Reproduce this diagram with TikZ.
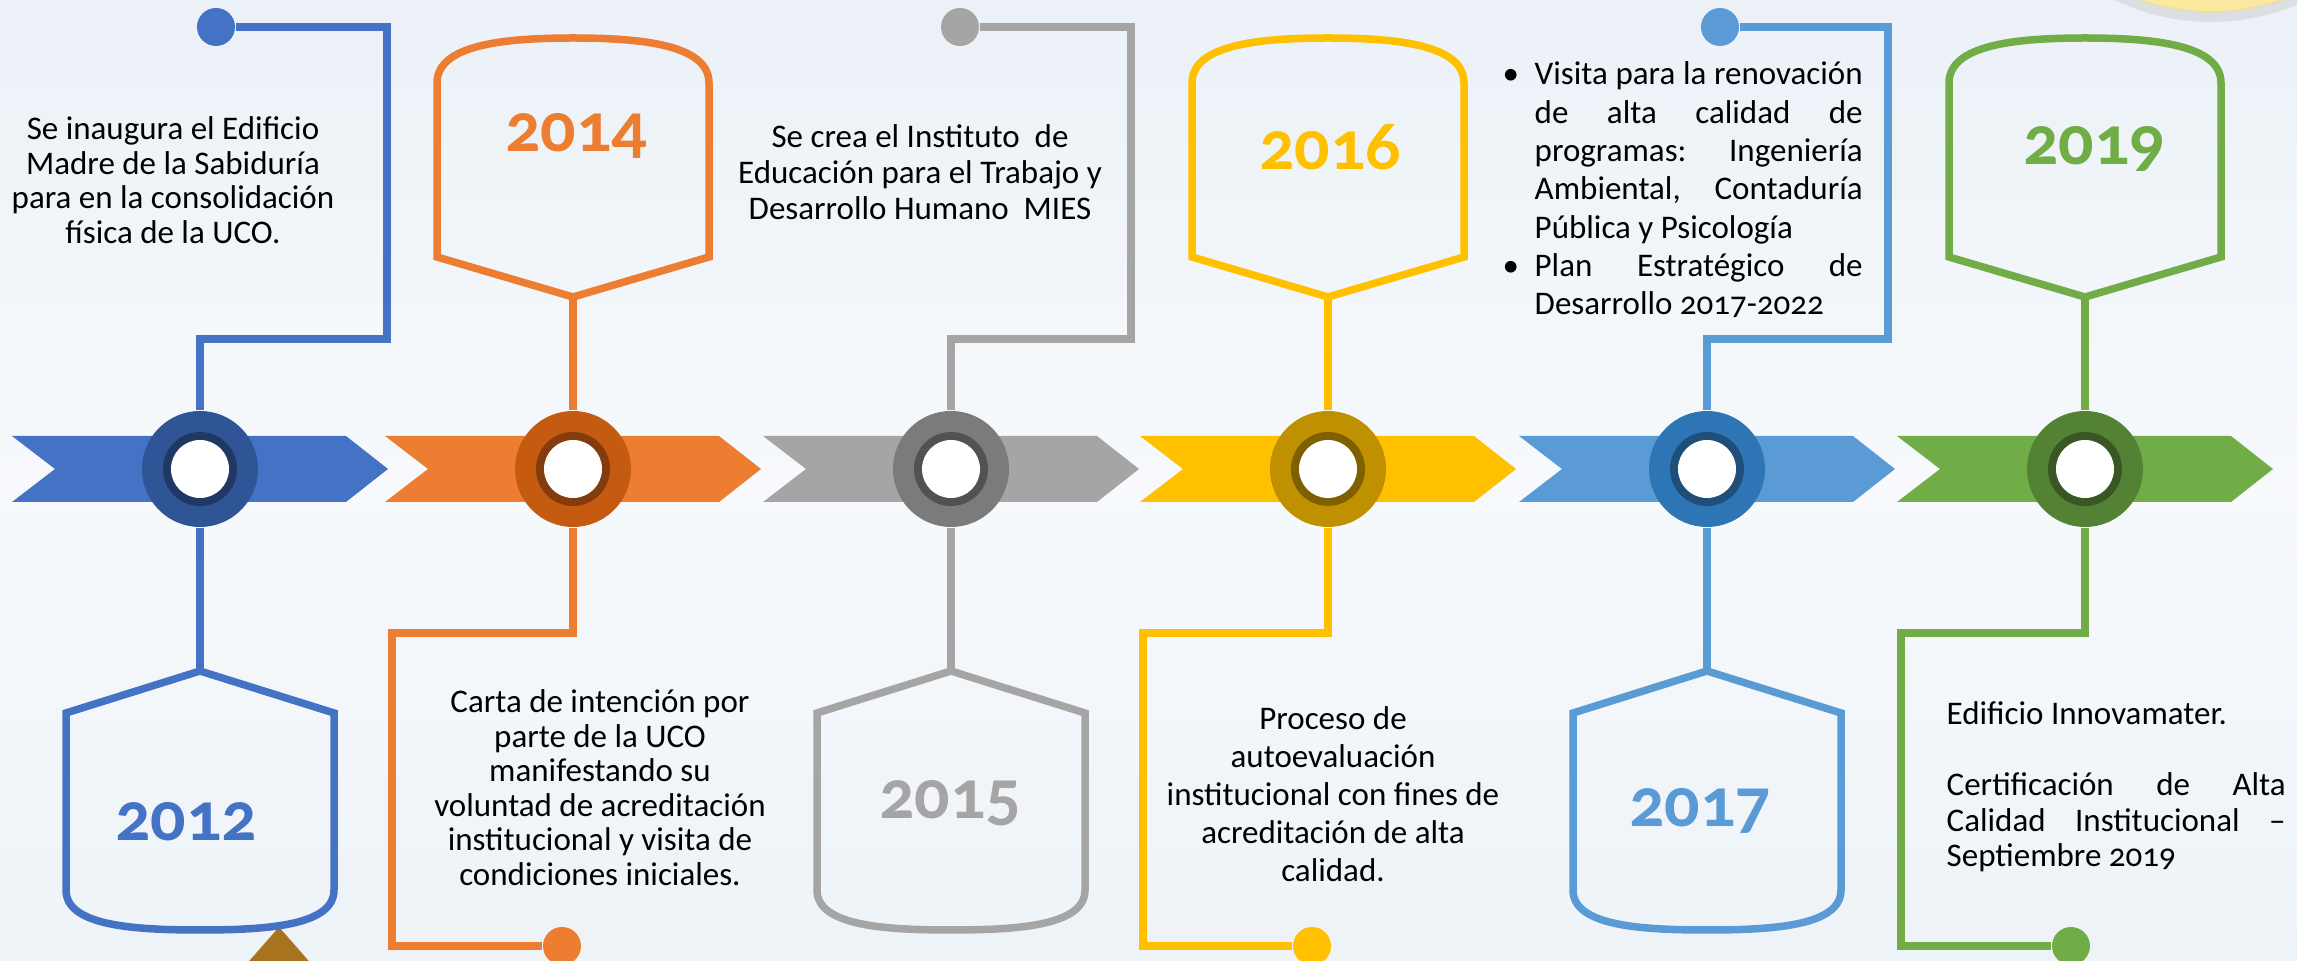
\documentclass[tikz,border=0pt]{standalone}
\usepackage{fontspec}
\setmainfont{Carlito}[Numbers=OldStyle]
\usetikzlibrary{positioning}

\definecolor{bgtop}{HTML}{EBF1F7}
\definecolor{bgbot}{HTML}{EEF3F8}
\definecolor{cA}{HTML}{4472C4}\definecolor{cAr}{HTML}{2F5597}\definecolor{cAc}{HTML}{203864}
\definecolor{cB}{HTML}{ED7D31}\definecolor{cBr}{HTML}{C55A11}\definecolor{cBc}{HTML}{843C0C}
\definecolor{cC}{HTML}{A5A5A5}\definecolor{cCr}{HTML}{7B7B7B}\definecolor{cCc}{HTML}{525252}
\definecolor{cD}{HTML}{FFC000}\definecolor{cDr}{HTML}{BF9000}\definecolor{cDc}{HTML}{7F6000}
\definecolor{cE}{HTML}{5B9BD5}\definecolor{cEr}{HTML}{2E75B6}\definecolor{cEc}{HTML}{1F4E79}
\definecolor{cF}{HTML}{70AD47}\definecolor{cFr}{HTML}{548235}\definecolor{cFc}{HTML}{385723}
\definecolor{discfill}{HTML}{FCE9A0}
\definecolor{discedge}{HTML}{EADDB5}
\definecolor{tri}{HTML}{A8731F}

\begin{document}
\begin{tikzpicture}[x=0.1mm, y=-0.1mm,
    conn/.style={line width=0.75mm, draw=#1},
    dot/.style={circle, fill=#1, minimum size=3.8mm, inner sep=0},
    ring/.style 2 args={circle, fill=#1, minimum size=11.6mm, inner sep=0,
      path picture={\fill[#2] (path picture bounding box.center) circle (3.7mm);
        \fill[white] (path picture bounding box.center) circle (2.9mm);}},
    banner/.style={line width=0.75mm, draw=#1},
    year/.style={anchor=base, inner sep=0, text=#1, font=\fontsize{7mm}{7.5mm}\selectfont\bfseries},
    evtxt/.style={anchor=base, inner sep=0}]
    \useasboundingbox (0,0) rectangle (2297,961);
    \clip (0,0) rectangle (2297,961);
    \shade[top color=bgtop, bottom color=bgbot, middle color=white!60!bgtop] (0,0) rectangle (2297,961);

    % logo edge and triangle
    \fill[black!25, opacity=0.35] (2211,-200) circle (222);
    \fill[discfill] (2211,-204) circle (216);
    \draw[discedge, line width=0.2mm] (2211,-204) circle (216);
    \fill[tri] (279,927) -- (321,975) -- (237,975) -- cycle;

    % timeline band
    \foreach \R/\c in {200/cA, 573/cB, 951/cC, 1328/cD, 1707/cE, 2085/cF}
        \fill[\c] (\R-188,436) -- (\R+146,436) -- (\R+188,469) -- (\R+146,502) -- (\R-188,502) -- (\R-145,469) -- cycle;

    \foreach \R/\c/\d [count=\i] in {200/cAr/cAc, 573/cBr/cBc, 951/cCr/cCc, 1328/cDr/cDc, 1707/cEr/cEc, 2085/cFr/cFc}
        \node[ring={\c}{\d}] (r\i) at (\R,469) {};

    % year banners
    \foreach \R/\c/\i in {573/cB/2, 1328/cD/4, 2085/cF/6} {
        \draw[banner=\c] (\R-136,257) -- (\R-136,83) .. controls (\R-136,45) and (\R-70,38) .. (\R,38)
            .. controls (\R+70,38) and (\R+136,45) .. (\R+136,83) -- (\R+136,257) -- (\R,297) coordinate (b\i) -- cycle;
        \draw[conn=\c] (b\i) -- (r\i);
    }
    \foreach \R/\c/\i in {200/cA/1, 951/cC/3, 1707/cE/5} {
        \draw[banner=\c] (\R,671) coordinate (b\i) -- (\R+134,713) -- (\R+134,890) .. controls (\R+134,925) and (\R+70,930) .. (\R,930)
            .. controls (\R-70,930) and (\R-134,925) .. (\R-134,890) -- (\R-134,713) -- cycle;
        \draw[conn=\c] (r\i) -- (b\i);
    }

    % text connectors
    \node[dot=cA] (d1) at (216,27) {};
    \node[dot=cC] (d3) at (960,27) {};
    \node[dot=cE] (d5) at (1720,27) {};
    \coordinate (k1) at (387,339);
    \coordinate (k3) at (1131,339);
    \coordinate (k5) at (1888,339);
    \draw[conn=cA] (d1) -| (k1) -| (r1);
    \draw[conn=cC] (d3) -| (k3) -| (r3);
    \draw[conn=cE] (d5) -| (k5) -| (r5);

    \node[dot=cB] (d2) at (562,946) {};
    \node[dot=cD] (d4) at (1312,946) {};
    \node[dot=cF] (d6) at (2071,946) {};
    \coordinate (k2) at (392,633);
    \coordinate (k4) at (1143,633);
    \coordinate (k6) at (1901,633);
    \draw[conn=cB] (r2) |- (k2) |- (d2);
    \draw[conn=cD] (r4) |- (k4) |- (d4);
    \draw[conn=cF] (r6) |- (k6) |- (d6);

    % years
    \node[year=cA] (y12) at (186,841) {2012};
    \node[year=cB] (y14) at (576,152) {2014};
    \node[year=cC] (y15) at (950,819) {2015};
    \node[year=cD] (y16) at (1330,170) {2016};
    \node[year=cE] (y17) at (1700,827) {2017};
    \node[year=cF] (y19) at (2094,165) {2019};

    % events
    \node[evtxt] (t12) at (173,140) {\parbox[t]{40mm}{\fontsize{3.3mm}{3.45mm}\selectfont\centering
        Se inaugura el Edificio\\ Madre de la Sabiduría\\ para en la consolidación\\ física de la UCO.}};
    \node[evtxt] (t14) at (600,713) {\parbox[t]{40mm}{\fontsize{3.3mm}{3.45mm}\selectfont\centering
        Carta de intención por\\ parte de la UCO\\ manifestando su\\ voluntad de acreditación\\
        institucional y visita de\\ condiciones iniciales.}};
    \node[evtxt] (t15) at (920,148) {\parbox[t]{40mm}{\fontsize{3.3mm}{3.6mm}\selectfont\centering
        Se crea el Instituto~ de\\ Educación para el Trabajo y\\ Desarrollo Humano~ MIES}};
    \node[evtxt] (t16) at (1333,730) {\parbox[t]{40mm}{\fontsize{3.3mm}{3.8mm}\selectfont\centering
        Proceso de\\ autoevaluación\\ institucional con fines de\\ acreditación de alta\\ calidad.}};
    \node[evtxt, anchor=base west] (t17) at (1502,85) {\parbox[t]{36mm}{\fontsize{3.3mm}{3.83mm}\selectfont
        \makebox[3.2mm][l]{•}\makebox[32.8mm][s]{Visita para la renovación}\\
        \hspace*{3.2mm}\makebox[32.8mm][s]{de alta calidad de}\\
        \hspace*{3.2mm}\makebox[32.8mm][s]{programas: Ingeniería}\\
        \hspace*{3.2mm}\makebox[32.8mm][s]{Ambiental, Contaduría}\\
        \hspace*{3.2mm}Pública y Psicología\\
        \makebox[3.2mm][l]{•}\makebox[32.8mm][s]{Plan Estratégico de}\\
        \hspace*{3.2mm}Desarrollo 2017-2022}};
    \node[evtxt, anchor=base west] (t19) at (1946,725) {\parbox[t]{34mm}{\fontsize{3.3mm}{3.55mm}\selectfont
        Edificio Innovamater.\\ \mbox{}\\
        \makebox[33.9mm][s]{Certificación de Alta}\\
        \makebox[33.9mm][s]{Calidad Institucional –}\\
        Septiembre 2019}};
\end{tikzpicture}
\end{document}
